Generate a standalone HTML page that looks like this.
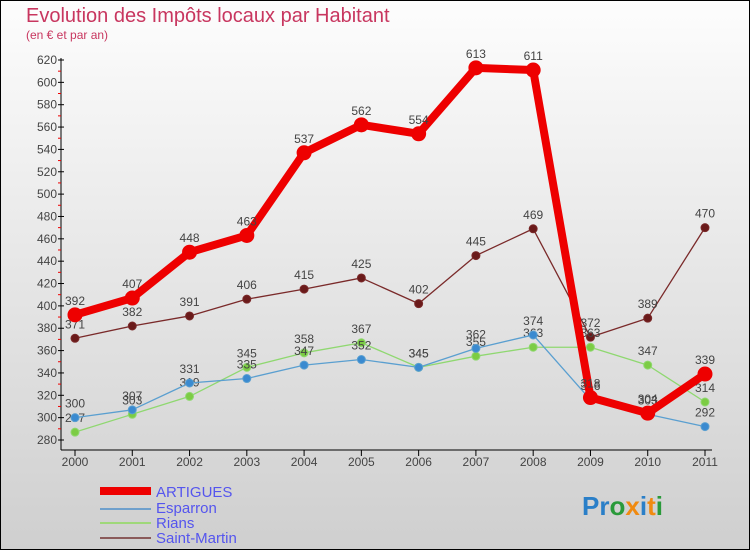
<!DOCTYPE html>
<html><head><meta charset="utf-8"><style>
body{margin:0;width:750px;height:550px;overflow:hidden;font-family:"Liberation Sans",sans-serif}
</style></head><body>
<svg width="750" height="550" xmlns="http://www.w3.org/2000/svg">
<defs><linearGradient id="bg" x1="0" y1="0" x2="0" y2="1"><stop offset="0" stop-color="#fdfdfd"/><stop offset="1" stop-color="#cfcfcf"/></linearGradient></defs>
<rect x="0.5" y="0.5" width="749" height="549" fill="url(#bg)" stroke="#000"/>
<text x="26" y="22" font-size="20" fill="#c8365f">Evolution des Impôts locaux par Habitant</text>
<text x="26" y="39" font-size="12" fill="#c8365f">(en € et par an)</text>
<g id="axes"></g>
<g id="series"></g>
<g id="legend" font-size="15" fill="#5555ee">
<rect x="100" y="487" width="51" height="8" fill="#e00"/>
<text x="156" y="497">ARTIGUES</text>
<rect x="100" y="508" width="51" height="2" fill="#6fa0cc"/>
<text x="156" y="513">Esparron</text>
<rect x="100" y="522" width="51" height="2" fill="#9fd87a"/>
<text x="156" y="528">Rians</text>
<rect x="100" y="537" width="51" height="2" fill="#8a5a5a"/>
<text x="156" y="543">Saint-Martin</text>
</g>
<text x="582" y="515" font-size="26" font-weight="bold"><tspan fill="#2a7fc8">Pr</tspan><tspan fill="#2a9a3a">o</tspan><tspan fill="#f08a10">x</tspan><tspan fill="#2a7fc8">i</tspan><tspan fill="#f08a10">t</tspan><tspan fill="#2a9a3a">i</tspan></text>
</svg>
<script>
const years=["2000","2001","2002","2003","2004","2005","2006","2007","2008","2009","2010","2011"];
const yTicks=[280,300,320,340,360,380,400,420,440,460,480,500,520,540,560,580,600,620];
const artigues=[392,407,448,463,537,562,554,613,611,318,304,339];
const esparron=[300,307,331,335,347,352,345,362,374,316,303,292];
const rians=[287,303,319,345,358,367,345,355,363,363,347,314];
const saintMartin=[371,382,391,406,415,425,402,445,469,372,389,470];
const NS="http://www.w3.org/2000/svg";
const X=i=>75+i*(630/11);
const Y=v=>440-(v-280)*(380/340);
function mk(t,a,p){const e=document.createElementNS(NS,t);for(const k in a)e.setAttribute(k,a[k]);p.appendChild(e);return e;}
const ax=document.getElementById('axes');
let l=mk('line',{x1:61,y1:58,x2:61,y2:450,stroke:'#000'},ax);


l=mk('line',{x1:61,y1:450,x2:712,y2:450,stroke:'#000'},ax);


yTicks.forEach((v,i)=>{
 const y=Y(v);
 mk('line',{x1:58,y1:y,x2:64,y2:y,stroke:'#000'},ax);
 if(i<yTicks.length-1) mk('line',{x1:58,y1:y-11.2,x2:61,y2:y-11.2,stroke:'#e00'},ax);
 const t=mk('text',{x:57,y:y+4,'text-anchor':'end','font-size':12,fill:'#444'},ax);
 t.textContent=v;
 
 
});
years.forEach((yr,i)=>{
 mk('line',{x1:X(i),y1:450,x2:X(i),y2:456,stroke:'#000'},ax);
 const t=mk('text',{x:X(i),y:466,'text-anchor':'middle','font-size':12,fill:'#444'},ax);
 t.textContent=yr;
 
 
});
const sg=document.getElementById('series');
function draw(data,name,color,w,r,dot){
 const g=mk('g',{},sg);
 
 
 const pl=mk('polyline',{points:data.map((v,i)=>X(i)+','+Y(v)).join(' '),fill:'none',stroke:color,'stroke-width':w,'stroke-linejoin':'round'},g);
 
 
 data.forEach((v,i)=>{
  const c=mk('circle',{cx:X(i),cy:Y(v),r:r,fill:dot,stroke:color,'stroke-width':1},g);
  
  
  const t=mk('text',{x:X(i),y:Y(v)-10,'text-anchor':'middle','font-size':12,fill:'#444'},g);
  t.textContent=v;
  
  
 });
}
draw(saintMartin,'saint-martin','#7a2a2a',1.3,4,'#6a1a1a');
draw(rians,'rians','#8fd870',1.3,4,'#7ccc44');
draw(esparron,'esparron','#5a9fd0',1.3,4,'#3a8ad0');
draw(artigues,'artigues','#ee0000',8,7,'#ee0000');
</script>
</body></html>
